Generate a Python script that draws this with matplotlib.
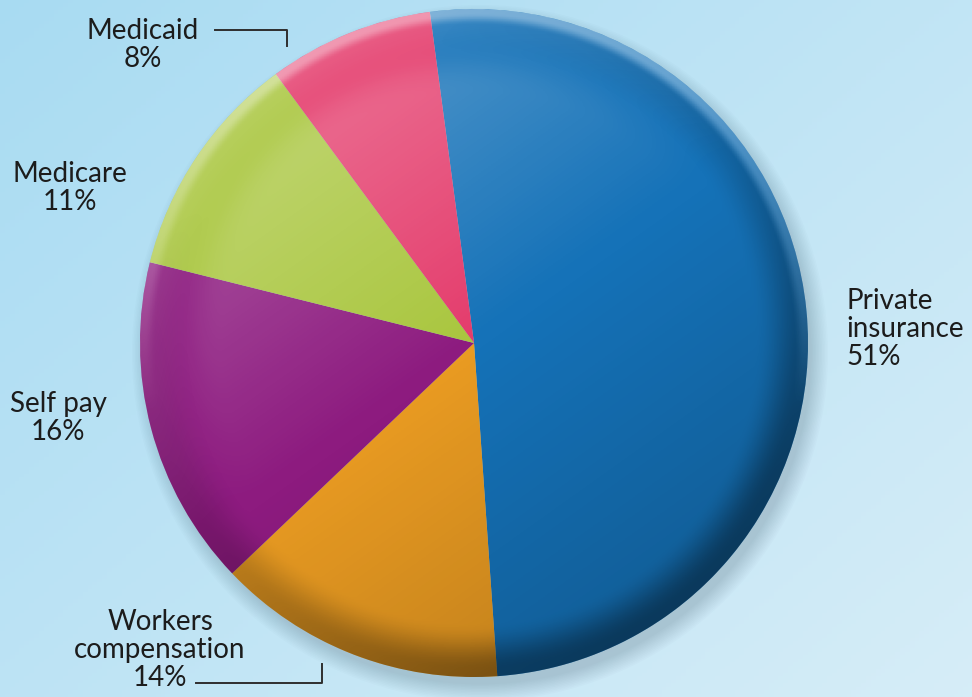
import numpy as np
import matplotlib
matplotlib.use("Agg")
import matplotlib.pyplot as plt
import matplotlib.patches as patches

# data
labels = ["Private\ninsurance\n51%", "Workers\ncompensation\n14%", "Self pay\n16%",
          "Medicare\n11%", "Medicaid\n8%"]
values = [51, 14, 16, 11, 8]
colors = ["#1572b8", "#e99b22", "#8d1b7f", "#a9c63e", "#e43c6c"]

W, H = 972, 697
fig = plt.figure(figsize=(W / 100, H / 100), dpi=100)
ax = fig.add_axes([0, 0, 1, 1])
ax.set_xlim(0, W)
ax.set_ylim(0, H)
ax.axis("off")

# fondo degradado azul claro
gx, gy = np.meshgrid(np.linspace(0, 1, 200), np.linspace(0, 1, 200))
t = np.clip(0.55 * gx + 0.45 * gy, 0, 1)
c0 = np.array([0.66, 0.86, 0.95])
c1 = np.array([0.84, 0.93, 0.97])
bg = c0 + (c1 - c0) * t[..., None]
ax.imshow(bg, extent=(0, W, 0, H), origin="upper", zorder=0, aspect="auto")

cx, cy, r = 474, H - 343, 334

# sombra
for k in range(12):
    ax.add_patch(patches.Circle((cx + 6, cy - 10), r + 14 - k * 1.5,
                                facecolor="#55687a", alpha=0.025, lw=0, zorder=1))

wedges, _ = ax.pie(values, colors=colors, startangle=97.6, counterclock=False,
                   center=(cx, cy), radius=r, frame=True,
                   wedgeprops=dict(linewidth=0))
for w in wedges:
    w.set_zorder(2)

# sombreado 3D
n = 400
u, v = np.meshgrid(np.linspace(-1, 1, n), np.linspace(1, -1, n))
rr = np.sqrt(u ** 2 + v ** 2)
light = (-0.5 * u + 0.7 * v) / np.hypot(0.5, 0.7)


def smooth(a, b, x):
    s = np.clip((x - a) / (b - a), 0, 1)
    return s * s * (3 - 2 * s)


rim = smooth(0.84, 0.98, rr)
top_edge = smooth(0.955, 0.99, rr) * np.clip(v + 0.2, 0, 1)
white_a = 0.28 * np.clip(light, 0, 1) * (1 - smooth(0.75, 0.97, rr))
white_a += 0.30 * top_edge
white_a += 0.18 * rim * np.clip(light, 0, 1)
dark_a = 0.18 * np.clip(-light, 0, 1)
dark_a += 0.32 * rim * np.clip(0.5 - 0.6 * light, 0, 1) * (1 - top_edge)
dark_a = np.clip(dark_a, 0, 0.6)

circ = patches.Circle((cx, cy), r, transform=ax.transData, facecolor="none", lw=0)
ax.add_patch(circ)
img_d = np.zeros((n, n, 4))
img_d[..., 3] = dark_a
img_w = np.ones((n, n, 4))
img_w[..., 3] = np.clip(white_a, 0, 1)
for img in (img_d, img_w):
    im = ax.imshow(img, extent=(cx - r, cx + r, cy - r, cy + r), origin="upper",
                   zorder=3, aspect="auto")
    im.set_clip_path(circ)

ax.set_xlim(0, W)
ax.set_ylim(0, H)

# etiquetas
font = dict(family="Lato", fontsize=20, color="#1c1c1c", linespacing=1.1)
ax.text(846, H - 329, labels[0], ha="left", va="center", **font)
ax.text(160, H - 650, labels[1], ha="center", va="center", **font)
ax.text(58, H - 418, labels[2], ha="center", va="center", **font)
ax.text(70, H - 188, labels[3], ha="center", va="center", **font)
ax.text(143, H - 45, labels[4], ha="center", va="center", **font)

# lineas guia
lc = dict(color="#2e2e2e", lw=1.4, zorder=4)
ax.plot([215, 287, 287], [H - 30, H - 30, H - 46], **lc)
ax.plot([196, 322, 322], [H - 683, H - 683, H - 664], **lc)

fig.savefig("out.png", dpi=100)
